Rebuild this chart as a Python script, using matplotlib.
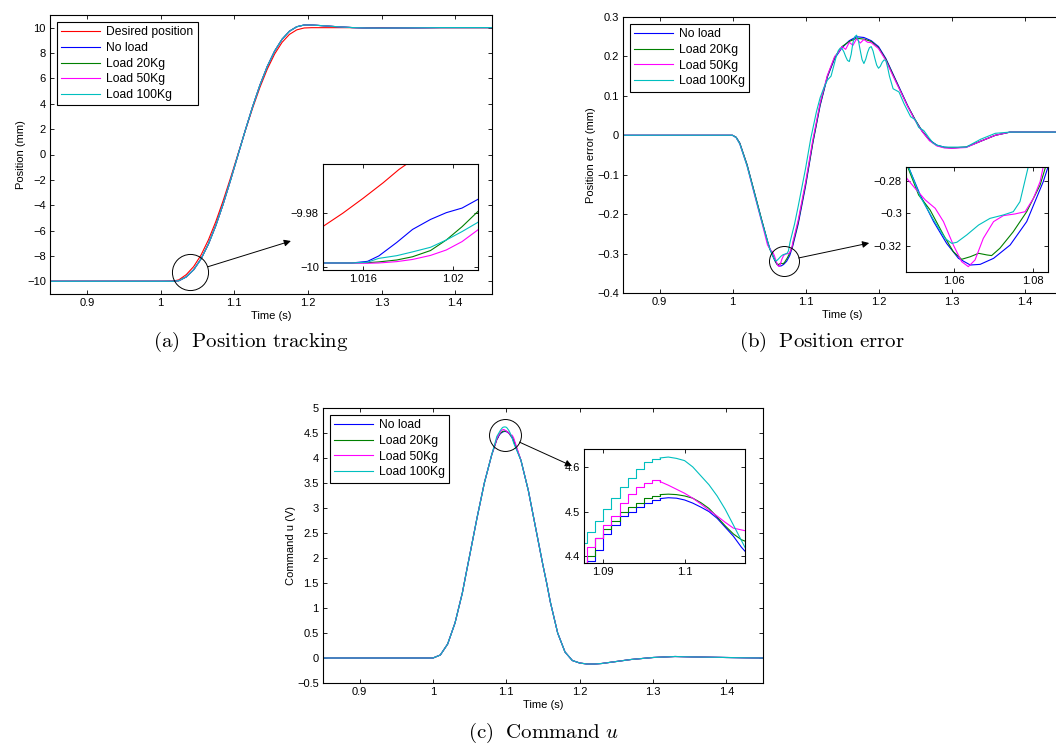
import matplotlib
matplotlib.use('Agg')
import matplotlib.pyplot as plt
from matplotlib.ticker import FuncFormatter


plt.rcParams['font.family'] = ['Liberation Sans', 'DejaVu Sans']
plt.rcParams['mathtext.fontset'] = 'cm'
plt.rcParams['font.size'] = 8

C_RED = '#ff0000'
C_BLUE = '#0000ff'
C_GREEN = '#008000'
C_MAG = '#ff00ff'
C_CYAN = '#00bfbf'

# ---------------- (a) position tracking ----------------
t_des = [0.85, 1.0, 1.005, 1.0142, 1.0151, 1.016, 1.0169, 1.0176, 1.0181, 1.019, 1.0204,
         1.025, 1.035, 1.045, 1.055, 1.065, 1.075, 1.085, 1.095, 1.105, 1.115, 1.125,
         1.135, 1.145, 1.155, 1.165, 1.175, 1.185, 1.195, 1.205, 1.45]
pos_des = [-10, -10, -9.998, -9.9852, -9.9802, -9.9747, -9.9689, -9.964, -9.9611, -9.955, -9.943,
           -9.88, -9.47, -8.84, -7.93, -6.74, -5.30, -3.65, -1.86, 0.0, 1.86, 3.65,
           5.30, 6.74, 7.93, 8.84, 9.47, 9.83, 9.977, 10.0, 10.0]

t_load_pre = [0.85, 1.0, 1.01, 1.0155]
pos_load_pre = [-9.9986, -9.9986, -9.9986, -9.9986]

t_load_zoom = [1.0162, 1.0167, 1.0175, 1.0182, 1.019, 1.0197, 1.0204, 1.0211]
pos_noload_zoom = [-9.998, -9.996, -9.991, -9.9862, -9.9825, -9.98, -9.9783, -9.9751]
pos_20_zoom = [-9.9985, -9.9982, -9.9975, -9.9963, -9.994, -9.9901, -9.9852, -9.9796]
pos_50_zoom = [-9.9987, -9.9986, -9.9981, -9.9973, -9.9958, -9.9938, -9.9907, -9.9864]
pos_100_zoom = [-9.9983, -9.9969, -9.9959, -9.9945, -9.9928, -9.9901, -9.987, -9.9836]

t_load_post = [1.025, 1.035, 1.045, 1.055, 1.065, 1.075, 1.085, 1.095, 1.105, 1.115, 1.125,
               1.135, 1.145, 1.155, 1.165, 1.175, 1.185, 1.195, 1.205, 1.215, 1.225, 1.235,
               1.245, 1.26, 1.28, 1.3, 1.34, 1.38, 1.45]
pos_load_post = [-9.95, -9.65, -9.09, -8.235, -7.07, -5.62, -3.92, -2.04, -0.075, 1.89, 3.765,
                 5.475, 6.95, 8.16, 9.085, 9.72, 10.075, 10.21, 10.21, 10.175, 10.135, 10.095,
                 10.057, 10.01, 9.975, 9.968, 9.985, 10.008, 10.008]

# ---------------- (b) position error ----------------
t_err_noload = [0.85, 1.0, 1.005, 1.01, 1.02, 1.03, 1.04, 1.0484, 1.0514, 1.0548, 1.0581, 1.0611,
                1.0641, 1.0666, 1.07, 1.0742, 1.0784, 1.0826, 1.09, 1.1, 1.11, 1.12, 1.13, 1.14,
                1.15, 1.16, 1.17, 1.18, 1.19, 1.2, 1.21, 1.22, 1.23, 1.24, 1.25, 1.26, 1.27, 1.28,
                1.29, 1.3, 1.32, 1.34, 1.36, 1.38, 1.45]
err_noload = [0, 0, -0.005, -0.02, -0.075, -0.145, -0.215, -0.2712, -0.2886, -0.305, -0.3184, -0.3276,
              -0.3317, -0.3313, -0.3276, -0.3194, -0.305, -0.2804, -0.225, -0.13, -0.02, 0.075, 0.148, 0.195,
              0.222, 0.24, 0.25, 0.248, 0.24, 0.225, 0.195, 0.155, 0.115, 0.075, 0.04, 0.01, -0.012, -0.025,
              -0.03, -0.032, -0.03, -0.015, 0.0, 0.008, 0.008]

t_err_20 = [0.85, 1.0, 1.005, 1.01, 1.02, 1.03, 1.04, 1.0482, 1.051, 1.0539, 1.0573, 1.0598, 1.0619,
            1.0641, 1.0662, 1.0683, 1.0695, 1.0716, 1.075, 1.0784, 1.0818, 1.0832, 1.09, 1.1, 1.11,
            1.12, 1.13, 1.14, 1.15, 1.16, 1.17, 1.18, 1.19, 1.2, 1.21, 1.22, 1.23, 1.24, 1.25, 1.26,
            1.27, 1.28, 1.29, 1.3, 1.32, 1.34, 1.36, 1.38, 1.45]
err_20 = [0, 0, -0.005, -0.02, -0.075, -0.145, -0.215, -0.2712, -0.2886, -0.2978, -0.3132, -0.3235, -0.3282,
          -0.3266, -0.3245, -0.3255, -0.3259, -0.3214, -0.3112, -0.2989, -0.2825, -0.2712, -0.22, -0.125, -0.018,
          0.078, 0.15, 0.198, 0.225, 0.238, 0.246, 0.244, 0.238, 0.222, 0.193, 0.153, 0.113, 0.074, 0.04, 0.01,
          -0.013, -0.026, -0.031, -0.032, -0.03, -0.015, 0.0, 0.008, 0.008]

t_err_50 = [0.85, 1.0, 1.005, 1.01, 1.02, 1.03, 1.04, 1.048, 1.0501, 1.0527, 1.0552, 1.0573, 1.0598,
            1.0619, 1.0636, 1.0653, 1.0674, 1.07, 1.0725, 1.0754, 1.078, 1.0801, 1.0818, 1.0826, 1.09,
            1.1, 1.11, 1.12, 1.13, 1.14, 1.145, 1.15, 1.155, 1.16, 1.165, 1.17, 1.175, 1.18, 1.185,
            1.19, 1.2, 1.21, 1.22, 1.23, 1.24, 1.25, 1.26, 1.27, 1.28, 1.29, 1.3, 1.32, 1.34, 1.36,
            1.38, 1.45]
err_50 = [0, 0, -0.006, -0.022, -0.078, -0.15, -0.22, -0.2784, -0.2845, -0.2917, -0.2968, -0.305, -0.3194,
          -0.3296, -0.3327, -0.3286, -0.3153, -0.305, -0.3013, -0.3003, -0.2989, -0.2907, -0.2804, -0.2712, -0.215,
          -0.12, -0.012, 0.082, 0.152, 0.2, 0.21, 0.225, 0.218, 0.236, 0.228, 0.245, 0.234, 0.243, 0.236,
          0.235, 0.22, 0.19, 0.15, 0.112, 0.073, 0.038, 0.009, -0.014, -0.027, -0.032, -0.033, -0.031, -0.015, 0.0,
          0.008, 0.008]

t_err_100 = [0.85, 1.0, 1.005, 1.01, 1.02, 1.03, 1.04, 1.0484, 1.0514, 1.0548, 1.0577, 1.0594, 1.0607,
             1.0632, 1.0662, 1.0691, 1.0725, 1.075, 1.0767, 1.0788, 1.085, 1.09, 1.1, 1.107, 1.115, 1.12,
             1.125, 1.13, 1.135, 1.14, 1.1425, 1.145, 1.1475, 1.15, 1.1525, 1.155, 1.1575, 1.16, 1.1625,
             1.165, 1.1675, 1.17, 1.1725, 1.175, 1.1775, 1.18, 1.1825, 1.185, 1.1875, 1.19, 1.1925, 1.195,
             1.1975, 1.2, 1.2025, 1.205, 1.2075, 1.21, 1.2125, 1.215, 1.22, 1.228, 1.235, 1.244, 1.25,
             1.255, 1.262, 1.269, 1.275, 1.28, 1.29, 1.3, 1.32, 1.34, 1.36, 1.38, 1.45]
err_100 = [0, 0, -0.006, -0.022, -0.078, -0.148, -0.218, -0.2712, -0.2896, -0.304, -0.3153, -0.3184, -0.3177,
           -0.3132, -0.3071, -0.303, -0.3009, -0.2989, -0.2927, -0.2712, -0.225, -0.18, -0.085, -0.01, 0.06, 0.095,
           0.12, 0.14, 0.15, 0.185, 0.203, 0.215, 0.221, 0.22, 0.212, 0.2, 0.19, 0.187, 0.205,
           0.235, 0.25, 0.254, 0.24, 0.215, 0.192, 0.182, 0.193, 0.21, 0.222, 0.225, 0.214, 0.195,
           0.178, 0.17, 0.175, 0.185, 0.191, 0.19, 0.172, 0.15, 0.118, 0.11, 0.08, 0.047, 0.04,
           0.02, 0.012, -0.006, -0.02, -0.025, -0.03, -0.03, -0.03, -0.01, 0.005, 0.008, 0.008]

# ---------------- (c) command ----------------
t_u_pre = [0.85, 1.0, 1.01, 1.02, 1.03, 1.04, 1.045, 1.05, 1.06, 1.07, 1.08]
u_pre = [0, 0, 0.06, 0.28, 0.7, 1.3, 1.68, 2.05, 2.8, 3.5, 4.06]

t_u_step = [1.087, 1.088, 1.089, 1.090, 1.091, 1.092, 1.093, 1.094, 1.095, 1.096]
u_noload_step = [4.37, 4.39, 4.415, 4.45, 4.47, 4.49, 4.50, 4.51, 4.52, 4.525]
u_20_step = [4.37, 4.40, 4.44, 4.46, 4.48, 4.50, 4.51, 4.52, 4.53, 4.535]
u_50_step = [4.38, 4.42, 4.44, 4.47, 4.49, 4.52, 4.54, 4.555, 4.565, 4.57]
u_100_step = [4.43, 4.455, 4.48, 4.505, 4.53, 4.555, 4.575, 4.595, 4.61, 4.617]

t_u_smooth = [1.097, 1.098, 1.099, 1.100, 1.101, 1.102, 1.103, 1.104, 1.105, 1.106, 1.107, 1.108, 1.11]
u_noload_smooth = [4.529, 4.531, 4.530, 4.526, 4.519, 4.51, 4.50, 4.485, 4.465, 4.445, 4.42, 4.40, 4.33]
u_20_smooth = [4.538, 4.539, 4.538, 4.535, 4.53, 4.52, 4.507, 4.488, 4.468, 4.45, 4.437, 4.43, 4.37]
u_50_smooth = [4.567, 4.559, 4.55, 4.541, 4.53, 4.517, 4.503, 4.49, 4.476, 4.463, 4.459, 4.455, 4.40]
u_100_smooth = [4.62, 4.622, 4.619, 4.614, 4.60, 4.58, 4.56, 4.535, 4.505, 4.47, 4.435, 4.40, 4.30]

t_u_post = [1.12, 1.13, 1.14, 1.15, 1.155, 1.16, 1.17, 1.18, 1.19, 1.2, 1.21, 1.22, 1.23, 1.25,
            1.27, 1.3, 1.33, 1.36, 1.4, 1.45]
u_post = [3.95, 3.35, 2.6, 1.85, 1.5, 1.12, 0.5, 0.12, -0.05, -0.1, -0.12, -0.12, -0.11, -0.07,
          -0.03, 0.01, 0.03, 0.02, 0.01, 0.0]

load_labels = ['No load', 'Load 20Kg', 'Load 50Kg', 'Load 100Kg']
load_colors = [C_BLUE, C_GREEN, C_MAG, C_CYAN]

W, H = 1056, 745


def px_axes(fig, left, top, right, bottom):
    return fig.add_axes([left / W, 1 - bottom / H, (right - left) / W, (bottom - top) / H])


def fmt(v, pos):
    if abs(v) < 1e-12:
        v = 0.0
    return ('%g' % v).replace('-', '\u2212')


def style(ax, size=8):
    ax.tick_params(direction='in', top=True, right=True, length=3, width=0.6,
                   labelsize=size, pad=3)
    for s in ax.spines.values():
        s.set_linewidth(0.8)
    ax.xaxis.set_major_formatter(FuncFormatter(fmt))
    ax.yaxis.set_major_formatter(FuncFormatter(fmt))


def legend(ax):
    leg = ax.legend(loc='upper left', fontsize=8.7, handlelength=3.2, labelspacing=0.3,
                    borderpad=0.35, handletextpad=0.5, fancybox=False, framealpha=1,
                    edgecolor='k', borderaxespad=0.6)
    leg.get_frame().set_linewidth(0.8)


def zoom_mark(ax, xy, ms, head):
    ax.plot([xy[0]], [xy[1]], 'o', ms=ms, mfc='none', mec='k', mew=0.7, zorder=5)
    ax.annotate('', xy=head, xycoords='axes fraction', xytext=xy, textcoords='data',
                arrowprops=dict(arrowstyle='-|>', color='k', lw=0.7, shrinkA=ms / 2, shrinkB=0,
                                mutation_scale=10))


fig = plt.figure(figsize=(W / 100, H / 100), dpi=100)

# ---- panel (a)
ax_a = px_axes(fig, 50, 15, 492, 294)
pos_zoom = [pos_noload_zoom, pos_20_zoom, pos_50_zoom, pos_100_zoom]
ax_a.plot(t_des, pos_des, color=C_RED, lw=0.8, label='Desired position')
for lab, col, pz in zip(load_labels, load_colors, pos_zoom):
    ax_a.plot(t_load_pre + t_load_zoom + t_load_post, pos_load_pre + pz + pos_load_post,
              color=col, lw=0.8, label=lab)
ax_a.set_xlim(0.85, 1.45)
ax_a.set_ylim(-11, 11)
ax_a.set_xticks([0.9, 1.0, 1.1, 1.2, 1.3, 1.4])
ax_a.set_yticks(range(-10, 11, 2))
ax_a.set_xlabel('Time (s)', fontsize=8, labelpad=2)
ax_a.set_ylabel('Position (mm)', fontsize=8, labelpad=1)
style(ax_a)
legend(ax_a)
zoom_mark(ax_a, (1.0405, -9.28), 26, (0.545, 0.19))

ins_a = px_axes(fig, 323, 164, 478, 270)
ins_a.plot(t_des, pos_des, color=C_RED, lw=0.8)
for col, pz in zip(load_colors, pos_zoom):
    ins_a.plot(t_load_pre + t_load_zoom + t_load_post, pos_load_pre + pz + pos_load_post,
               color=col, lw=0.8)
ins_a.set_xlim(1.01422, 1.02111)
ins_a.set_ylim(-10.0012, -9.962)
ins_a.set_xticks([1.016, 1.02])
ins_a.set_yticks([-10, -9.98])
style(ins_a)

# ---- panel (b)
ax_b = px_axes(fig, 623, 17, 1061, 293)
err_sets = [(t_err_noload, err_noload), (t_err_20, err_20), (t_err_50, err_50), (t_err_100, err_100)]
for lab, col, (te, ev) in zip(load_labels, load_colors, err_sets):
    ax_b.plot(te, ev, color=col, lw=0.8, label=lab)
ax_b.set_xlim(0.85, 1.45)
ax_b.set_ylim(-0.4, 0.3)
ax_b.set_xticks([0.9, 1.0, 1.1, 1.2, 1.3, 1.4])
ax_b.set_yticks([-0.4, -0.3, -0.2, -0.1, 0, 0.1, 0.2, 0.3])
ax_b.set_xlabel('Time (s)', fontsize=8, labelpad=2)
ax_b.set_ylabel('Position error (mm)', fontsize=8, labelpad=1)
style(ax_b)
legend(ax_b)
zoom_mark(ax_b, (1.0705, -0.319), 21.6, (0.562, 0.181))

ins_b = px_axes(fig, 906, 167, 1048, 272)
for col, (te, ev) in zip(load_colors, err_sets):
    ins_b.plot(te, ev, color=col, lw=0.8)
ins_b.set_xlim(1.0478, 1.0838)
ins_b.set_ylim(-0.336, -0.2714)
ins_b.set_xticks([1.06, 1.08])
ins_b.set_yticks([-0.32, -0.3, -0.28])
style(ins_b)

# ---- panel (c)
ax_c = px_axes(fig, 323, 408, 763, 683)
u_steps = [u_noload_step, u_20_step, u_50_step, u_100_step]
u_smooths = [u_noload_smooth, u_20_smooth, u_50_smooth, u_100_smooth]
for lab, col, us, um in zip(load_labels, load_colors, u_steps, u_smooths):
    ax_c.plot(t_u_pre + t_u_step + t_u_smooth + t_u_post, u_pre + us + um + u_post,
              color=col, lw=0.8, label=lab)
ax_c.set_xlim(0.85, 1.45)
ax_c.set_ylim(-0.5, 5)
ax_c.set_xticks([0.9, 1.0, 1.1, 1.2, 1.3, 1.4])
ax_c.set_yticks([-0.5, 0, 0.5, 1, 1.5, 2, 2.5, 3, 3.5, 4, 4.5, 5])
ax_c.set_xlabel('Time (s)', fontsize=8, labelpad=2)
ax_c.set_ylabel('Command u (V)', fontsize=8, labelpad=1)
style(ax_c)
legend(ax_c)
zoom_mark(ax_c, (1.098, 4.45), 23, (0.566, 0.789))

ins_c = px_axes(fig, 584, 449, 745, 563)
for col, us, um in zip(load_colors, u_steps, u_smooths):
    ins_c.plot(t_u_step + t_u_smooth[:1], us + um[:1], color=col, lw=0.8, drawstyle='steps-post')
    ins_c.plot(t_u_smooth, um, color=col, lw=0.8)
ins_c.set_xlim(1.08763, 1.10743)
ins_c.set_ylim(4.385, 4.64)
ins_c.set_xticks([1.09, 1.1])
ins_c.set_yticks([4.4, 4.5, 4.6])
style(ins_c)

# captions
fig.text(251 / W, 1 - 342 / H, r'$\mathrm{(a)\ \ Position\ tracking}$', ha='center', va='center',
         fontsize=15)
fig.text(822 / W, 1 - 342 / H, r'$\mathrm{(b)\ \ Position\ error}$', ha='center', va='center',
         fontsize=15)
fig.text(543 / W, 1 - 733 / H, r'$\mathrm{(c)\ \ Command}\ u$', ha='center', va='center',
         fontsize=15)

fig.savefig('out.png', dpi=100)
